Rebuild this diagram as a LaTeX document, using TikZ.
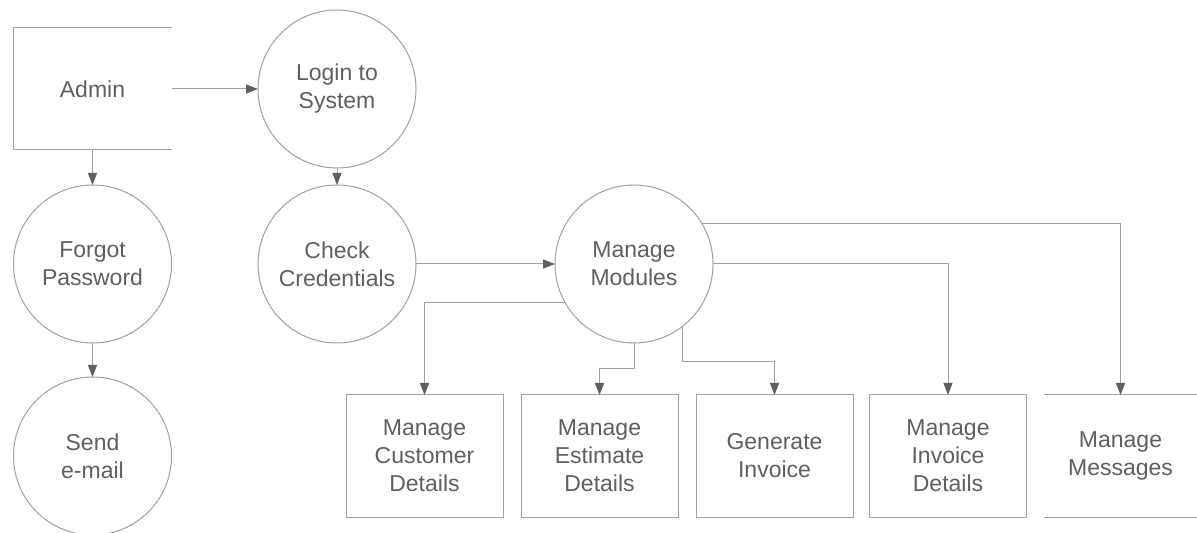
\documentclass[tikz,border=0pt]{standalone}
\usepackage{fontspec}
\setmainfont{Liberation Sans}
\usetikzlibrary{arrows.meta}

\definecolor{linegray}{RGB}{160,160,160}
\definecolor{tipgray}{RGB}{95,95,95}
\definecolor{textgray}{RGB}{95,95,95}

\begin{document}
\begin{tikzpicture}[
x=0.5pt, y=-0.5pt,
label text/.style={align=center, text=textgray, font=\fontsize{11.5}{14}\selectfont, inner sep=0pt, outer sep=0pt},
proc/.style={label text, circle, draw=linegray, line width=0.5pt, minimum size=79pt},
unit/.style={label text, rectangle, draw=linegray, line width=0.5pt, minimum width=78.5pt, minimum height=61pt},
open unit/.style={label text, rectangle, minimum width=79pt, minimum height=61pt},
flow/.style={draw=linegray, line width=0.5pt, -{Triangle[length=6pt, width=4.5pt, color=tipgray]}},
]
\useasboundingbox (0,0) rectangle (1197,533);

% Entity, open on its right side:
\node[open unit] at (92.5,89) (admin) {Admin};
\draw[linegray, line width=0.5pt] (admin.north east) -- (admin.north west) -- (admin.south west) -- (admin.south east);

% Processes:
\node[proc] at (337,89) (login) {Login to\\System};
\node[proc] at (337,264) (check) {Check\\Credentials};
\node[proc] at (92.5,264) (forgot) {Forgot\\Password};
\node[proc] at (92.5,456) (email) {Send\\e-mail};
\node[proc] at (634,264) (modules) {Manage\\Modules};

% Modules row:
\node[unit] at (424.5,456) (customer) {Manage\\Customer\\Details};
\node[unit] at (599.5,456) (estimate) {Manage\\Estimate\\Details};
\node[unit] at (774.5,456) (generate) {Generate\\Invoice};
\node[unit] at (948,456) (invoice) {Manage\\Invoice\\Details};

% Data store, top and bottom lines only:
\node[open unit, minimum width=76.5pt] at (1120.5,456) (messages) {Manage\\Messages};
\draw[linegray, line width=0.5pt] (messages.north west) -- (messages.north east);
\draw[linegray, line width=0.5pt] (messages.south west) -- (messages.south east);

\draw[flow] (admin.east) -- (login.west);
\draw[flow] (admin.south) -- (forgot.north);
\draw[flow] (forgot.south) -- (email.north);
\draw[flow] (login.south) -- (check.north);
\draw[flow] (check.east) -- (modules.west);

\draw[flow] (modules.209.6) -| (customer.north);
\draw[flow] (modules.south) -- ++(0,26) -| (estimate.north);
\draw[flow] (modules.308.3) -- ++(0,35) -| (generate.north);
\draw[flow] (modules.east) -| (invoice.north);
\draw[flow] (modules.31.3) -| (messages.north);
\end{tikzpicture}
\end{document}
